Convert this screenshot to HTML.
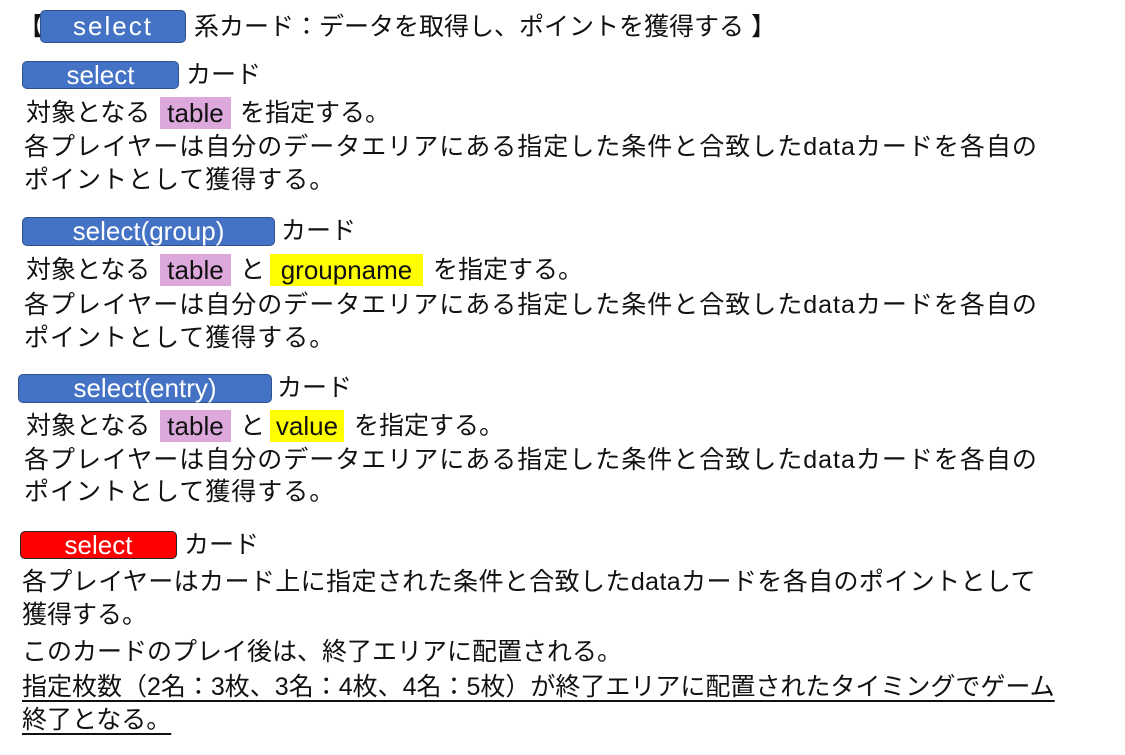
<!DOCTYPE html>
<html><head><meta charset="utf-8"><style>
body{margin:0;width:1125px;height:755px;background:#fff;position:relative;overflow:hidden;font-family:"Liberation Sans","Noto Sans CJK JP",sans-serif;color:#111}
.t{position:absolute;white-space:nowrap;font-size:25px;line-height:34px;height:34px}
.w{letter-spacing:1px}
.b{position:absolute;background:#4472c4;border:1.5px solid #2f528f;border-radius:5px;color:#fff;font-size:26px;text-align:center;box-sizing:border-box;line-height:26px}
.r{background:#ff0000;border-color:#222}
.h{position:absolute;font-size:26px;line-height:32px;height:32px;text-align:center}
.p{background:#dda9dd}.y{background:#ffff00}
.u{text-decoration:underline;text-underline-offset:5px}
</style></head><body>
<div class="t" style="left:18px;top:10px">【</div>
<div class="b" style="left:40px;top:10px;width:146px;height:33px;line-height:31px;letter-spacing:2px">select</div>
<div class="t" style="left:194px;top:10px">系カード：データを取得し、ポイントを獲得する 】</div>

<div class="b" style="left:22px;top:61px;width:157px;height:28px">select</div>
<div class="t" style="left:186px;top:58px">カード</div>
<div class="t" style="left:26px;top:96px">対象となる</div>
<div class="h p" style="left:160px;top:97px;width:71px">table</div>
<div class="t" style="left:240px;top:96px">を指定する。</div>
<div class="t w" style="left:24px;top:130px">各プレイヤーは自分のデータエリアにある指定した条件と合致したdataカードを各自の</div>
<div class="t w" style="left:24px;top:163px">ポイントとして獲得する。</div>

<div class="b" style="left:22px;top:217px;width:253px;height:29px">select(group)</div>
<div class="t" style="left:281px;top:214px">カード</div>
<div class="t" style="left:26px;top:253px">対象となる</div>
<div class="h p" style="left:160px;top:254px;width:71px">table</div>
<div class="t" style="left:240px;top:253px">と</div>
<div class="h y" style="left:270px;top:254px;width:153px">groupname</div>
<div class="t" style="left:433px;top:253px">を指定する。</div>
<div class="t w" style="left:24px;top:288px">各プレイヤーは自分のデータエリアにある指定した条件と合致したdataカードを各自の</div>
<div class="t w" style="left:24px;top:321px">ポイントとして獲得する。</div>

<div class="b" style="left:18px;top:374px;width:254px;height:29px">select(entry)</div>
<div class="t" style="left:277px;top:371px">カード</div>
<div class="t" style="left:26px;top:409px">対象となる</div>
<div class="h p" style="left:160px;top:410px;width:71px">table</div>
<div class="t" style="left:240px;top:409px">と</div>
<div class="h y" style="left:270px;top:410px;width:74px">value</div>
<div class="t" style="left:354px;top:409px">を指定する。</div>
<div class="t w" style="left:24px;top:443px">各プレイヤーは自分のデータエリアにある指定した条件と合致したdataカードを各自の</div>
<div class="t w" style="left:24px;top:475px">ポイントとして獲得する。</div>

<div class="b r" style="left:20px;top:531px;width:157px;height:28px">select</div>
<div class="t" style="left:184px;top:528px">カード</div>
<div class="t" style="left:22px;top:565px;letter-spacing:0.4px">各プレイヤーはカード上に指定された条件と合致したdataカードを各自のポイントとして</div>
<div class="t" style="left:22px;top:598px">獲得する。</div>
<div class="t" style="left:22px;top:635px">このカードのプレイ後は、終了エリアに配置される。</div>
<div class="t u" style="left:22px;top:670px">指定枚数（2名：3枚、3名：4枚、4名：5枚）が終了エリアに配置されたタイミングでゲーム</div>
<div class="t u" style="left:22px;top:703px">終了となる。</div>
</body></html>
